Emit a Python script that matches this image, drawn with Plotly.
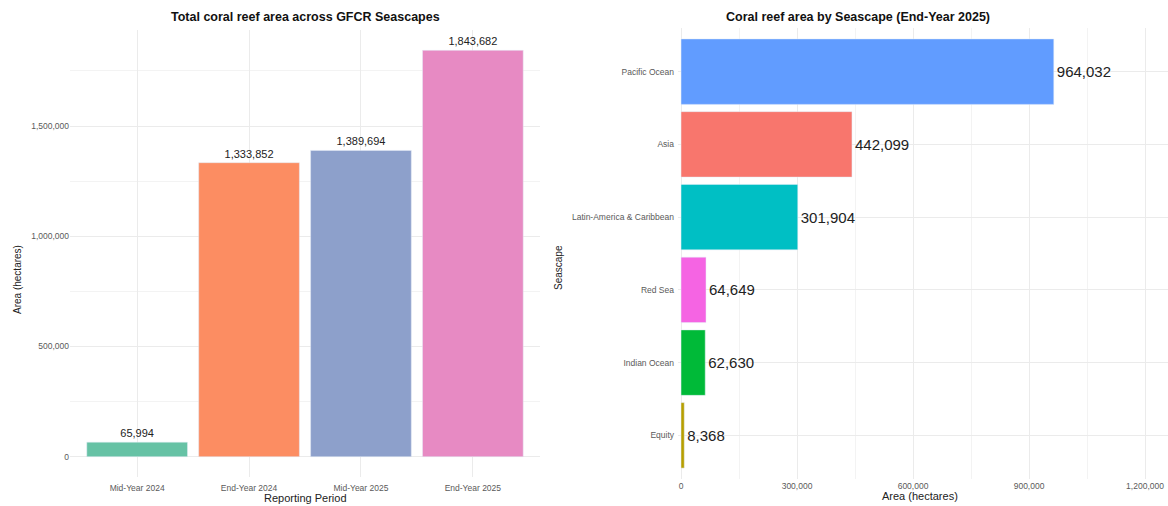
import plotly.graph_objects as go

periods = ["Mid-Year 2024", "End-Year 2024", "Mid-Year 2025", "End-Year 2025"]
period_area = [65994, 1333852, 1389694, 1843682]
period_colors = ["#66C2A5", "#FC8D62", "#8DA0CB", "#E78AC3"]

seascapes = ["Pacific Ocean", "Asia", "Latin-America & Caribbean", "Red Sea", "Indian Ocean", "Equity"]
seascape_area = [964032, 442099, 301904, 64649, 62630, 8368]
seascape_colors = ["#619CFF", "#F8766D", "#00BFC4", "#F564E3", "#00BA38", "#B79F00"]

W, H = 1168, 506
FONT = "Liberation Sans, Arial, sans-serif"
GRID = "#EBEBEB"
TICK = "#5a5a5a"

fig = go.Figure()
fig.add_trace(go.Bar(
    x=periods, y=period_area, marker_color=period_colors, width=0.9,
    text=[f"{v:,}" for v in period_area], textposition="outside",
    textfont=dict(size=11, color="#222222", family=FONT), cliponaxis=False,
    xaxis="x", yaxis="y", showlegend=False,
))
fig.add_trace(go.Bar(
    y=seascapes, x=seascape_area, orientation="h", marker_color=seascape_colors, width=0.9,
    text=[f"{v:,}" for v in seascape_area], textposition="outside",
    textfont=dict(size=15, color="#222222", family=FONT), cliponaxis=False,
    xaxis="x2", yaxis="y2", showlegend=False,
))

def px(xp):
    return xp / W

def py(yp):
    return (H - yp) / H

fig.update_layout(
    width=W, height=H, margin=dict(l=0, r=0, t=0, b=0),
    paper_bgcolor="white", plot_bgcolor="white",
    font=dict(family=FONT, color=TICK),
    xaxis=dict(domain=[px(70), px(540)], range=[-0.6, 3.6], type="category",
               showgrid=True, gridcolor=GRID, gridwidth=1, ticks="", zeroline=False,
               tickfont=dict(size=8.5, color=TICK), ticklabelstandoff=4, showline=False),
    yaxis=dict(domain=[py(477), py(30)], range=[-92184, 1935866],
               tickvals=[0, 500000, 1000000, 1500000], tickformat=",",
               showgrid=True, gridcolor=GRID, gridwidth=1, zeroline=False,
               minor=dict(tickvals=[250000, 750000, 1250000, 1750000], showgrid=True, gridcolor="#F3F3F3", gridwidth=1),
               tickfont=dict(size=8.5, color=TICK), ticks="", showline=False),
    xaxis2=dict(domain=[px(678), 1.0], range=[-7800, 1259400], anchor="y2",
                tickvals=[0, 300000, 600000, 900000, 1200000], tickformat=",",
                showgrid=True, gridcolor=GRID, gridwidth=1, zeroline=False,
                minor=dict(tickvals=[150000, 450000, 750000, 1050000], showgrid=True, gridcolor="#F3F3F3", gridwidth=1),
                tickfont=dict(size=8.5, color=TICK), ticks="", showline=False),
    yaxis2=dict(domain=[py(479), py(28)], range=[5.6, -0.6], type="category", anchor="x2",
                showgrid=True, gridcolor=GRID, gridwidth=1, zeroline=False,
                tickfont=dict(size=8.5, color=TICK), ticks="", ticklabelstandoff=3, showline=False),
    annotations=[
        dict(text="<b>Total coral reef area across GFCR Seascapes</b>", x=px(305), y=py(17),
             xref="paper", yref="paper", showarrow=False, font=dict(size=12.5, color="#111111", family=FONT),
             xanchor="center", yanchor="middle"),
        dict(text="<b>Coral reef area by Seascape (End-Year 2025)</b>", x=px(858), y=py(17),
             xref="paper", yref="paper", showarrow=False, font=dict(size=12.5, color="#111111", family=FONT),
             xanchor="center", yanchor="middle"),
        dict(text="Reporting Period", x=px(305), y=py(498), xref="paper", yref="paper", showarrow=False,
             font=dict(size=11, color="#222222", family=FONT), xanchor="center", yanchor="middle"),
        dict(text="Area (hectares)", x=px(920), y=py(496), xref="paper", yref="paper", showarrow=False,
             font=dict(size=11, color="#222222", family=FONT), xanchor="center", yanchor="middle"),
        dict(text="Area (hectares)", x=px(17), y=py(280), xref="paper", yref="paper", showarrow=False,
             textangle=-90, font=dict(size=10, color="#222222", family=FONT), xanchor="center", yanchor="middle"),
        dict(text="Seascape", x=px(558), y=py(268), xref="paper", yref="paper", showarrow=False,
             textangle=-90, font=dict(size=10, color="#222222", family=FONT), xanchor="center", yanchor="middle"),
    ],
)

fig.write_html("out.html", config={"displayModeBar": False},
               post_script="document.body.style.margin='0';document.body.style.overflow='hidden';")
